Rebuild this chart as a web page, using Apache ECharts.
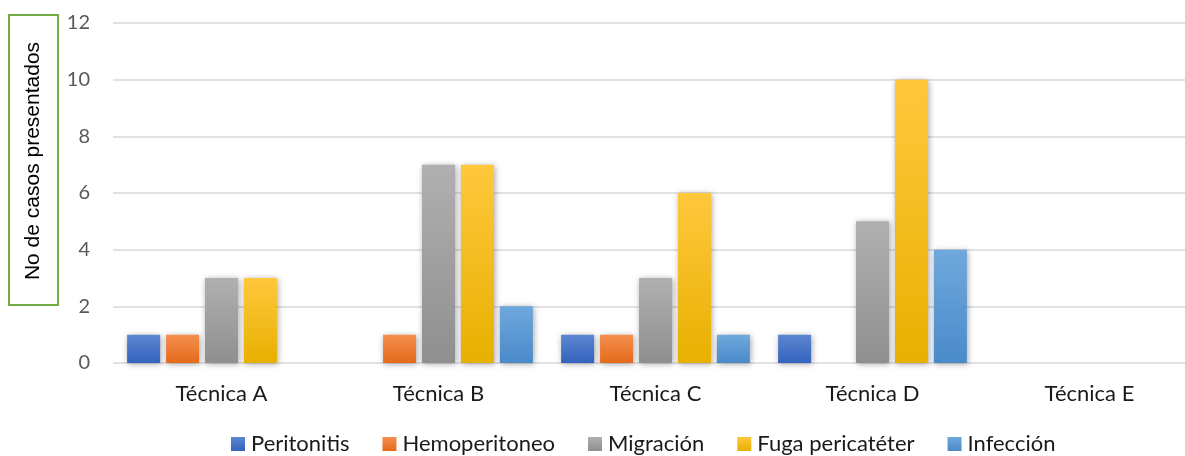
<!DOCTYPE html>
<html>
<head>
<meta charset="utf-8">
<script src="https://cdn.jsdelivr.net/npm/echarts@6/dist/echarts.min.js"></script>
<style>
  html, body { margin: 0; padding: 0; background: #fff; }
  #chart { width: 1185px; height: 456px; }
</style>
</head>
<body>
<div id="chart"></div>
<script>
// Casos por técnica de colocación del catéter
const categories = ['Técnica A', 'Técnica B', 'Técnica C', 'Técnica D', 'Técnica E'];
const seriesNames = ['Peritonitis', 'Hemoperitoneo', 'Migración', 'Fuga pericatéter', 'Infección'];
const peritonitis = [1, 0, 1, 1, 0];
const hemoperitoneo = [1, 1, 1, 0, 0];
const migracion = [3, 7, 3, 5, 0];
const fugaPericateter = [3, 7, 6, 10, 0];
const infeccion = [0, 2, 1, 4, 0];
const yTicks = { min: 0, max: 12, interval: 2 };
const axisTitle = 'No de casos presentados';

const values = [peritonitis, hemoperitoneo, migracion, fugaPericateter, infeccion];
// colour pairs: top (lighter) and bottom (darker) of each bar
const colours = [
  ['#5E86D0', '#3263BE'],
  ['#F48F4F', '#E56A1C'],
  ['#B0B0B0', '#8F8F8F'],
  ['#FFC83D', '#E8B000'],
  ['#6FA8DC', '#4A8ACB']
];

const grad = (c) => new echarts.graphic.LinearGradient(0, 0, 0, 1, [
  { offset: 0, color: c[0] }, { offset: 1, color: c[1] }
]);

const chart = echarts.init(document.getElementById('chart'), null, { renderer: 'canvas' });
chart.setOption({
  animation: false,
  backgroundColor: '#ffffff',
  // the plot runs a little past the right edge of the page
  grid: {
    left: 113, width: 1085, top: 23, height: 340,
    containLabel: false, outerBoundsMode: 'none'
  },
  legend: {
    top: 428,
    left: 226,
    itemWidth: 14,
    itemHeight: 14,
    itemGap: 33,
    icon: 'rect',
    textStyle: { fontFamily: 'Lato', fontSize: 22, color: '#1a1a1a', padding: [0, 0, 0, 1] },
    data: seriesNames.map((n, i) => ({ name: n, itemStyle: { color: grad(colours[i]) } }))
  },
  xAxis: {
    type: 'category',
    data: categories,
    axisLine: { show: false },
    axisTick: { show: false },
    axisLabel: { fontFamily: 'Lato', fontSize: 22, color: '#1a1a1a', margin: 20 }
  },
  yAxis: {
    type: 'value',
    min: yTicks.min,
    max: yTicks.max,
    interval: yTicks.interval,
    axisLine: { show: false },
    axisTick: { show: false },
    axisLabel: { fontFamily: 'Lato', fontSize: 20, color: '#595959', margin: 23 },
    splitLine: { lineStyle: { color: '#D9D9D9', width: 1.5 } }
  },
  graphic: [
    {
      type: 'rect',
      left: 8, top: 14,
      shape: { width: 49, height: 290 },
      style: { fill: '#fff', stroke: '#70AD47', lineWidth: 2 }
    },
    {
      type: 'text',
      x: 33, y: 161,
      rotation: Math.PI / 2,
      style: {
        text: axisTitle,
        fontFamily: 'Liberation Sans',
        fontSize: 21,
        fill: '#000',
        align: 'center',
        verticalAlign: 'middle'
      }
    }
  ],
  series: seriesNames.map((name, i) => ({
    name,
    type: 'bar',
    data: values[i],
    barWidth: 33,
    barGap: '18%',
    itemStyle: {
      color: grad(colours[i]),
      shadowColor: 'rgba(0,0,0,0.35)',
      shadowBlur: 6,
      shadowOffsetX: 1,
      shadowOffsetY: 1
    }
  }))
});
</script>
</body>
</html>
